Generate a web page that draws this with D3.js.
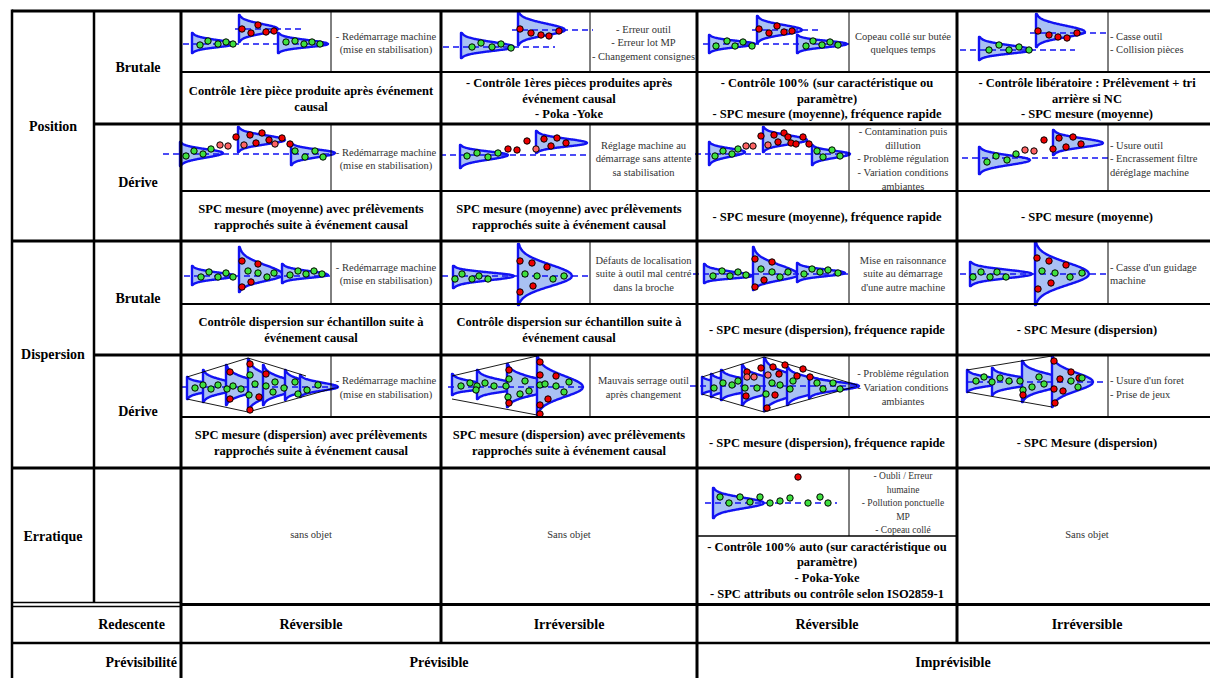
<!DOCTYPE html>
<html><head><meta charset="utf-8">
<script src="https://cdn.jsdelivr.net/npm/d3@7"></script>
<style>
body{margin:0;background:#fff}
svg{display:block}
text{font-family:"Liberation Serif","Times New Roman",serif}
</style>
</head><body>
<svg id="chart" width="1210" height="678" font-family="Liberation Serif, Times New Roman, serif"></svg>
<script>
// ---------------- DATA ----------------
const families = ["Position", "Dispersion", "Erratique"];
const kinds = ["Brutale", "Dérive"];
const redescente = ["Réversible", "Irréversible", "Réversible", "Irréversible"];
const previsibilite = ["Prévisible", "Imprévisible"];
const rowFooterLabels = ["Redescente", "Prévisibilité"];

const causes = [
  [["- Redémarrage machine","(mise en stabilisation)"],["- Erreur outil","- Erreur lot MP","- Changement consignes"],["Copeau collé sur butée","quelques temps"],["- Casse outil","- Collision pièces"]],
  [["- Redémarrage machine","(mise en stabilisation)"],["Réglage machine au","démarrage sans attente","sa stabilisation"],["- Contamination puis","dillution","- Problème régulation","- Variation conditions","ambiantes"],["- Usure outil","- Encrassement filtre","déréglage machine"]],
  [["- Redémarrage machine","(mise en stabilisation)"],["Défauts de localisation","suite à outil mal centré","dans la broche"],["Mise en raisonnance","suite au démarrage","d'une autre machine"],["- Casse d'un guidage","machine"]],
  [["- Redémarrage machine","(mise en stabilisation)"],["Mauvais serrage outil","après changement"],["- Problème régulation","- Variation conditions","ambiantes"],["- Usure d'un foret","- Prise de jeux"]]
];
const controls = [
  [["Contrôle 1ère pièce produite après événement","causal"],["- Contrôle 1ères pièces produites après","événement causal","- Poka -Yoke"],["- Contrôle 100% (sur caractéristique ou","paramètre)","- SPC mesure (moyenne), fréquence rapide"],["- Contrôle libératoire : Prélèvement + tri","arrière si NC","- SPC mesure (moyenne)"]],
  [["SPC mesure (moyenne) avec prélèvements","rapprochés suite à événement causal"],["SPC mesure (moyenne) avec prélèvements","rapprochés suite à événement causal"],["- SPC mesure (moyenne), fréquence rapide"],["- SPC mesure (moyenne)"]],
  [["Contrôle dispersion sur échantillon suite à","événement causal"],["Contrôle dispersion sur échantillon suite à","événement causal"],["- SPC mesure (dispersion), fréquence rapide"],["- SPC Mesure (dispersion)"]],
  [["SPC mesure (dispersion) avec prélèvements","rapprochés suite à événement causal"],["SPC mesure (dispersion) avec prélèvements","rapprochés suite à événement causal"],["- SPC mesure (dispersion), fréquence rapide"],["- SPC Mesure (dispersion)"]]
];
const erratiqueCauses = ["- Oubli / Erreur","humaine","- Pollution ponctuelle","MP","- Copeau collé"];
const erratiqueControls = ["- Contrôle 100% auto (sur caractéristique ou","paramètre)","- Poka-Yoke","- SPC attributs ou contrôle selon ISO2859-1"];
const erratiqueSansObjet = ["sans objet","Sans objet",null,"Sans objet"];

// distributions: [panel, baseline t, top value, bottom value, tip t, tip value]
const distributions = [
  ["PB1",11,22,42,54,33],["PB1",58,4,31,97,18],["PB1",97,22,42,147,33],
  ["PB2",20,22,47,73,36],["PB2",77,1,34,124,19],
  ["PB3",12,24,42,58,33],["PB3",60,5,32,105,19],["PB3",100,24,42,150,33],
  ["PB4",22,26,49,75,39],["PB4",79,3,36,128,21],
  ["PD1",-1,18,42,42,29],["PD1",57,3,28,104,16],["PD1",110,19,41,154,29],
  ["PD2",19,21,44,67,31],["PD2",95,7,29,146,19],
  ["PD3",12,18,41,48,28],["PD3",66,3,28,110,16],["PD3",115,21,41,153,30],
  ["PD4",22,23,50,73,36],["PD4",96,6,31,146,19],
  ["DB1",11,25,44,54,35],["DB1",58,6,51,102,34],["DB1",101,23,42,147,34],
  ["DB2",12,25,47,73,35],["DB2",77,3,64,131,35],
  ["DB3",7,23,42,55,35],["DB3",56,6,49,101,34],["DB3",100,22,41,148,32],
  ["DB4",13,21,45,75,33],["DB4",78,1,64,132,33],
  ["DD1",6,22,44,46,32],["DD1",22,15,47,62,32],["DD1",45,10,50,85,32],["DD1",67,4,56,110,32],["DD1",82,10,50,122,32],["DD1",104,15,45,140,32],["DD1",119,20,42,157,32],
  ["DD2",11,19,40,55,32],["DD2",36,15,44,85,32],["DD2",66,9,52,118,32],["DD2",96,1,60,142,32],
  ["DD3",5,22,39,50,31],["DD3",14,19,42,64,31],["DD3",24,15,45,80,31],["DD3",45,10,50,100,31],["DD3",67,3,56,125,31],["DD3",90,12,50,145,31],["DD3",112,20,43,162,31],
  ["DD4",10,15,37,53,27],["DD4",35,13,40,83,27],["DD4",65,6,47,113,27],["DD4",95,1,52,136,27],
  ["ER3",16,20,50,67,35]
];
// target (dashed) lines: [panel, t1, t2, value]
const targets = [
  ["PB1",2,149,33],["PB1",54,122,18],["PB2",2,114,36],["PB2",71,152,19],
  ["PB3",6,152,33],["PB3",55,125,19],["PB4",3,118,39],["PB4",73,153,22],
  ["PD1",-18,152,30],["PD2",-1,149,31],["PD3",-2,153,30],["PD4",5,151,34],
  ["DB1",3,149,35],["DB2",1,147,35],["DB3",-4,151,33],["DB4",3,150,33],
  ["DD1",1,156,32],["DD2",7,145,32],["DD3",-7,160,31],["DD4",10,150,27],
  ["ER3",8,140,35]
];
// dispersion envelopes: [panel, [[t,value],...]]
const envelopes = [
  ["DD1",[[6,22],[67,3],[125,21]]],["DD1",[[6,44],[67,57],[157,32]]],
  ["DD2",[[11,21],[96,1]]],["DD2",[[11,44],[96,60]]],
  ["DD3",[[5,22],[67,2],[160,30]]],["DD3",[[5,39],[67,57],[160,31]]],
  ["DD4",[[10,15],[95,1]]],["DD4",[[10,37],[95,52]]]
];
// samples: [panel, t, value, status]  g = conforme, r = hors, p = limite
const samples = [
  ["PB1",19,34,"g"],["PB1",27,30,"g"],["PB1",37,33,"g"],["PB1",45,31,"g"],["PB1",52,33,"g"],
  ["PB1",61,18,"r"],["PB1",70,22,"r"],["PB1",77,14,"r"],["PB1",85,21,"r"],["PB1",93,20,"r"],
  ["PB1",105,31,"g"],["PB1",114,30,"g"],["PB1",123,33,"g"],["PB1",131,31,"g"],["PB1",139,33,"g"],
  ["PB2",31,36,"g"],["PB2",40,32,"g"],["PB2",51,36,"g"],["PB2",60,33,"g"],["PB2",70,37,"g"],
  ["PB2",79,18,"r"],["PB2",90,22,"r"],["PB2",100,24,"r"],["PB2",108,25,"r"],["PB2",118,20,"r"],
  ["PB3",19,35,"g"],["PB3",30,30,"g"],["PB3",38,35,"g"],["PB3",46,31,"g"],["PB3",55,35,"g"],
  ["PB3",62,18,"r"],["PB3",72,22,"r"],["PB3",80,15,"r"],["PB3",87,21,"r"],["PB3",95,20,"r"],
  ["PB3",109,35,"g"],["PB3",116,30,"g"],["PB3",125,34,"g"],["PB3",133,31,"g"],["PB3",141,34,"g"],
  ["PB4",32,39,"g"],["PB4",42,34,"g"],["PB4",52,39,"g"],["PB4",62,36,"g"],["PB4",72,39,"g"],
  ["PB4",81,20,"r"],["PB4",92,24,"r"],["PB4",101,26,"r"],["PB4",110,27,"r"],["PB4",120,22,"r"],
  ["PD1",5,32,"g"],["PD1",13,27,"g"],["PD1",22,30,"g"],["PD1",30,25,"g"],["PD1",39,21,"p"],["PD1",47,22,"p"],
  ["PD1",55,13,"r"],["PD1",63,21,"p"],["PD1",69,11,"r"],["PD1",75,19,"r"],["PD1",81,9,"r"],["PD1",88,16,"r"],["PD1",94,20,"p"],["PD1",101,14,"r"],["PD1",109,20,"r"],
  ["PD1",114,27,"g"],["PD1",124,33,"g"],["PD1",134,27,"g"],["PD1",142,33,"g"],
  ["PD2",26,32,"g"],["PD2",36,29,"g"],["PD2",47,33,"g"],["PD2",57,29,"g"],
  ["PD2",67,25,"r"],["PD2",76,26,"r"],["PD2",86,17,"r"],["PD2",95,25,"p"],
  ["PD2",103,15,"r"],["PD2",116,14,"r"],["PD2",110,22,"r"],["PD2",125,19,"r"],
  ["PD3",18,32,"g"],["PD3",26,27,"g"],["PD3",35,30,"g"],["PD3",41,25,"g"],["PD3",49,22,"p"],["PD3",56,22,"p"],
  ["PD3",64,12,"r"],["PD3",71,21,"p"],["PD3",77,11,"r"],["PD3",81,18,"r"],["PD3",87,9,"r"],["PD3",91,13,"r"],["PD3",94,19,"r"],["PD3",99,20,"r"],["PD3",106,13,"r"],["PD3",112,20,"r"],
  ["PD3",120,27,"g"],["PD3",126,33,"g"],["PD3",135,26,"g"],["PD3",143,32,"g"],
  ["PD4",30,38,"g"],["PD4",39,32,"g"],["PD4",50,36,"g"],["PD4",59,30,"g"],["PD4",68,26,"p"],["PD4",77,27,"p"],
  ["PD4",87,16,"r"],["PD4",96,25,"r"],["PD4",102,14,"r"],["PD4",109,23,"r"],["PD4",116,13,"r"],["PD4",124,20,"r"],
  ["DB1",20,36,"g"],["DB1",28,31,"g"],["DB1",37,36,"g"],["DB1",45,32,"g"],["DB1",52,36,"g"],
  ["DB1",61,20,"r"],["DB1",77,23,"r"],["DB1",70,41,"r"],["DB1",61,46,"r"],
  ["DB1",67,30,"g"],["DB1",77,32,"g"],["DB1",86,36,"g"],["DB1",93,32,"g"],
  ["DB1",109,34,"g"],["DB1",117,30,"g"],["DB1",125,33,"g"],["DB1",133,30,"g"],["DB1",141,33,"g"],
  ["DB2",14,38,"g"],["DB2",21,33,"g"],["DB2",31,38,"g"],["DB2",38,35,"g"],["DB2",47,38,"g"],
  ["DB2",79,20,"r"],["DB2",91,22,"r"],["DB2",106,26,"r"],["DB2",92,45,"r"],["DB2",79,51,"r"],
  ["DB2",84,33,"g"],["DB2",96,35,"g"],["DB2",112,38,"g"],["DB2",123,35,"g"],
  ["DB3",16,35,"g"],["DB3",25,30,"g"],["DB3",33,35,"g"],["DB3",41,31,"g"],["DB3",49,34,"g"],
  ["DB3",58,18,"r"],["DB3",75,21,"r"],["DB3",67,39,"r"],["DB3",58,46,"r"],
  ["DB3",64,28,"g"],["DB3",75,31,"g"],["DB3",83,36,"g"],["DB3",91,31,"g"],
  ["DB3",107,33,"g"],["DB3",115,28,"g"],["DB3",123,31,"g"],["DB3",131,29,"g"],["DB3",141,32,"g"],
  ["DB4",16,36,"g"],["DB4",24,31,"g"],["DB4",33,36,"g"],["DB4",40,31,"g"],["DB4",49,36,"g"],
  ["DB4",80,17,"r"],["DB4",92,20,"r"],["DB4",109,24,"r"],["DB4",81,48,"r"],["DB4",94,42,"r"],
  ["DB4",85,30,"g"],["DB4",98,32,"g"],["DB4",113,36,"g"],["DB4",125,32,"g"],
  ["DD1",14,33,"g"],["DD1",22,30,"g"],["DD1",30,34,"g"],["DD1",37,30,"g"],["DD1",46,34,"g"],["DD1",52,31,"g"],["DD1",60,34,"g"],
  ["DD1",49,17,"r"],["DD1",49,44,"r"],["DD1",69,9,"r"],["DD1",69,20,"g"],["DD1",74,29,"g"],["DD1",85,31,"g"],["DD1",85,19,"r"],
  ["DD1",68,40,"g"],["DD1",78,42,"r"],["DD1",69,55,"r"],
  ["DD1",94,27,"g"],["DD1",92,37,"g"],["DD1",103,33,"g"],["DD1",114,27,"g"],["DD1",117,39,"g"],["DD1",126,35,"g"],["DD1",137,30,"g"],
  ["DD2",20,31,"g"],["DD2",29,28,"g"],["DD2",36,31,"g"],["DD2",35,35,"g"],["DD2",44,28,"g"],["DD2",53,31,"g"],["DD2",65,31,"g"],
  ["DD2",68,15,"r"],["DD2",68,24,"g"],["DD2",67,42,"g"],["DD2",68,48,"r"],
  ["DD2",79,39,"g"],["DD2",84,26,"g"],["DD2",88,36,"g"],
  ["DD2",99,7,"r"],["DD2",99,20,"r"],["DD2",99,30,"g"],["DD2",115,21,"r"],["DD2",104,29,"g"],["DD2",115,31,"g"],["DD2",128,27,"g"],["DD2",123,37,"g"],
  ["DD2",107,44,"r"],["DD2",99,50,"r"],["DD2",99,59,"r"],
  ["DD3",17,33,"g"],["DD3",26,28,"g"],["DD3",35,30,"g"],["DD3",41,26,"g"],["DD3",48,33,"g"],["DD3",60,33,"g"],
  ["DD3",50,17,"r"],["DD3",50,22,"p"],["DD3",57,22,"p"],["DD3",64,13,"r"],["DD3",71,20,"p"],["DD3",76,12,"r"],["DD3",82,19,"r"],["DD3",88,10,"r"],["DD3",100,21,"r"],["DD3",106,14,"r"],["DD3",113,22,"r"],
  ["DD3",49,41,"r"],["DD3",78,40,"r"],["DD3",70,53,"r"],
  ["DD3",69,39,"g"],["DD3",75,28,"g"],["DD3",83,30,"g"],["DD3",93,34,"g"],["DD3",96,26,"g"],["DD3",120,28,"g"],["DD3",126,34,"g"],["DD3",136,28,"g"],["DD3",143,34,"g"],
  ["DD4",19,26,"g"],["DD4",27,22,"g"],["DD4",35,27,"g"],["DD4",43,23,"g"],["DD4",52,26,"g"],["DD4",63,26,"g"],["DD4",66,35,"g"],["DD4",66,40,"r"],
  ["DD4",75,32,"g"],["DD4",82,22,"g"],["DD4",87,29,"g"],
  ["DD4",97,6,"r"],["DD4",114,17,"r"],["DD4",122,23,"r"],["DD4",103,24,"r"],["DD4",97,34,"r"],["DD4",106,36,"r"],["DD4",98,48,"r"],
  ["DD4",114,26,"g"],["DD4",121,32,"g"],["DD4",125,23,"g"],
  ["ER3",23,29,"g"],["ER3",32,35,"g"],["ER3",43,29,"g"],["ER3",53,34,"g"],["ER3",63,29,"g"],["ER3",73,35,"g"],
  ["ER3",83,33,"g"],["ER3",93,30,"g"],["ER3",111,35,"g"],["ER3",123,29,"g"],["ER3",131,35,"g"],["ER3",101,9,"r"]
];

// ---------------- LAYOUT ----------------
const svg = d3.select("#chart");
const colL = [181, 441, 697, 957];
const colR = [441, 697, 957, 1217];
const sepX = [331, 590, 849, 1108];
const bandKeys = ["PB","PD","DB","DD"];
const bandTop = [11, 124, 241, 355];
const bandImg = [72, 191, 304, 417];
const bandBot = [124, 241, 355, 468];
const panelOrigin = {};
bandKeys.forEach((k,i)=>colL.forEach((x,j)=>panelOrigin[k+(j+1)] = [x, bandTop[i]]));
panelOrigin["ER3"] = [697, 468];
const scales = {};
Object.entries(panelOrigin).forEach(([k,[x,y]])=>{
  scales[k] = {
    x: d3.scaleLinear().domain([0,150]).range([x, x+150]),
    y: d3.scaleLinear().domain([0,60]).range([y, y+60])
  };
});

const BLUE = "#1212f2", FILL = "#a9c1f3";
const colorMap = {g:"#3fe03f", r:"#ee0000", p:"#ff6464"};

const segs = [
  [12,11,1210,11,3],
  [12,9.5,12,678,2.5],[94,11,94,603,2.5],[181,11,181,678,3],[441,11,441,643,3],[697,11,697,678,3],[957,11,957,643,3],
  [94,124,1210,124,3],[12,241,1210,241,3],[94,355,1210,355,3],[12,468,1210,468,3],
  [181,604.5,1210,604.5,3],[12,602.5,181,602.5,1.3],[12,606.5,181,606.5,1.3],[12,643,1210,643,2.5],
  [181,72,1210,72,2],[181,191,1210,191,2],[181,304,1210,304,2],[181,417,1210,417,2],
  [697,536,957,536,1.6],[849,468,849,536,1]
];
bandKeys.forEach((k,i)=>sepX.forEach(x=>segs.push([x,bandTop[i],x,bandImg[i],1])));

// glyphs: rotated normal density (baseline on the left, peak toward the right)
const gGlyph = svg.append("g");
const N = 60;
const ZMAX = 2.85;
function profile(u){
  if(u <= 0) return 1;
  if(u >= 1) return 0;
  return Math.min(1, Math.sqrt(-2*Math.log(u))/ZMAX);
}
function shapePoints(d){
  const s = scales[d[0]];
  const [p, x0, top, bot, tx, ty] = d;
  const upper = [], lower = [];
  for(let i=0;i<=N;i++){
    const u = i/N;
    const h = profile(u);
    const t = x0 + u*(tx-x0);
    upper.push([s.x(t), s.y(ty - h*(ty-top))]);
    lower.push([s.x(t), s.y(ty + h*(bot-ty))]);
  }
  return upper.concat(lower.reverse());
}
const line = d3.line().curve(d3.curveLinear);
gGlyph.selectAll("path.dist").data(distributions).join("path").attr("class","dist")
  .attr("d",d=>line(shapePoints(d))+"Z")
  .attr("fill",FILL).attr("stroke",BLUE).attr("stroke-width",2.4).attr("stroke-linejoin","round");

gGlyph.selectAll("path.env").data(envelopes).join("path").attr("class","env")
  .attr("d",d=>line(d[1].map(p=>[scales[d[0]].x(p[0]), scales[d[0]].y(p[1])])))
  .attr("fill","none").attr("stroke","#000").attr("stroke-width",0.9);

gGlyph.selectAll("line.tgt").data(targets).join("line").attr("class","tgt")
  .attr("x1",d=>scales[d[0]].x(d[1])).attr("x2",d=>scales[d[0]].x(d[2]))
  .attr("y1",d=>scales[d[0]].y(d[3])).attr("y2",d=>scales[d[0]].y(d[3]))
  .attr("stroke",BLUE).attr("stroke-width",1.7).attr("stroke-dasharray","6,4");

gGlyph.selectAll("circle").data(samples).join("circle")
  .attr("cx",d=>scales[d[0]].x(d[1])).attr("cy",d=>scales[d[0]].y(d[2]))
  .attr("r",3.2).attr("fill",d=>colorMap[d[3]]).attr("stroke","#000").attr("stroke-width",1);

// table lines on top of glyphs
const gLines = svg.append("g");
gLines.selectAll("line").data(segs).join("line")
  .attr("x1",d=>d[0]).attr("y1",d=>d[1]).attr("x2",d=>d[2]).attr("y2",d=>d[3])
  .attr("stroke","#000").attr("stroke-width",d=>d[4]);

// text helpers
function multiline(g, lines, x, yc, lh, opts){
  const n = lines.length;
  const y0 = yc - (n-1)*lh/2 + opts.size*0.33;
  lines.forEach((t,i)=>{
    g.append("text").attr("x",x).attr("y",y0+i*lh).text(t)
      .attr("font-family","Liberation Serif, Times New Roman, serif")
      .attr("text-anchor",opts.anchor||"middle")
      .attr("font-size",opts.size).attr("font-weight",opts.weight||"normal")
      .attr("fill",opts.fill||"#000");
  });
}
const gText = svg.append("g");

const famRanges = [[11,241],[241,468],[468,604]];
families.forEach((f,i)=>multiline(gText,[f],53,(famRanges[i][0]+famRanges[i][1])/2,0,{size:14,weight:"bold"}));
bandKeys.forEach((k,i)=>{
  multiline(gText,[kinds[i%2]],138,(bandTop[i]+bandBot[i])/2,0,{size:14,weight:"bold"});
});

causes.forEach((row,i)=>row.forEach((lines,j)=>{
  const yc = (bandTop[i]+bandImg[i])/2 + 1.5;
  if(j===3) multiline(gText,lines,sepX[j]+2,yc,13.7,{size:10.5,anchor:"start",fill:"#333"});
  else multiline(gText,lines,(sepX[j]+colR[j])/2,yc,13.7,{size:10.5,fill:"#333"});
}));
controls.forEach((row,i)=>row.forEach((lines,j)=>{
  const yc = (bandImg[i]+bandBot[i])/2 + 0.5;
  const cx = j===3 ? 1087 : (colL[j]+colR[j])/2;
  multiline(gText,lines,cx,yc,15.8,{size:12.5,weight:"bold"});
}));

multiline(gText,erratiqueCauses,903,503,13.5,{size:9.5,fill:"#333"});
multiline(gText,erratiqueControls,827,570,15.6,{size:12.5,weight:"bold"});
erratiqueSansObjet.forEach((t,j)=>{ if(t) multiline(gText,[t], j===3?1087:(colL[j]+colR[j])/2, 535, 0, {size:10.5,fill:"#333"}); });

multiline(gText,[rowFooterLabels[0]],165,624,0,{size:14,weight:"bold",anchor:"end"});
multiline(gText,[rowFooterLabels[1]],177,662,0,{size:14,weight:"bold",anchor:"end"});
redescente.forEach((t,j)=>multiline(gText,[t], j===3?1087:(colL[j]+colR[j])/2, 624, 0, {size:14,weight:"bold"}));
previsibilite.forEach((t,j)=>multiline(gText,[t], j===0?439:953, 662, 0, {size:14,weight:"bold"}));
</script>
</body></html>
